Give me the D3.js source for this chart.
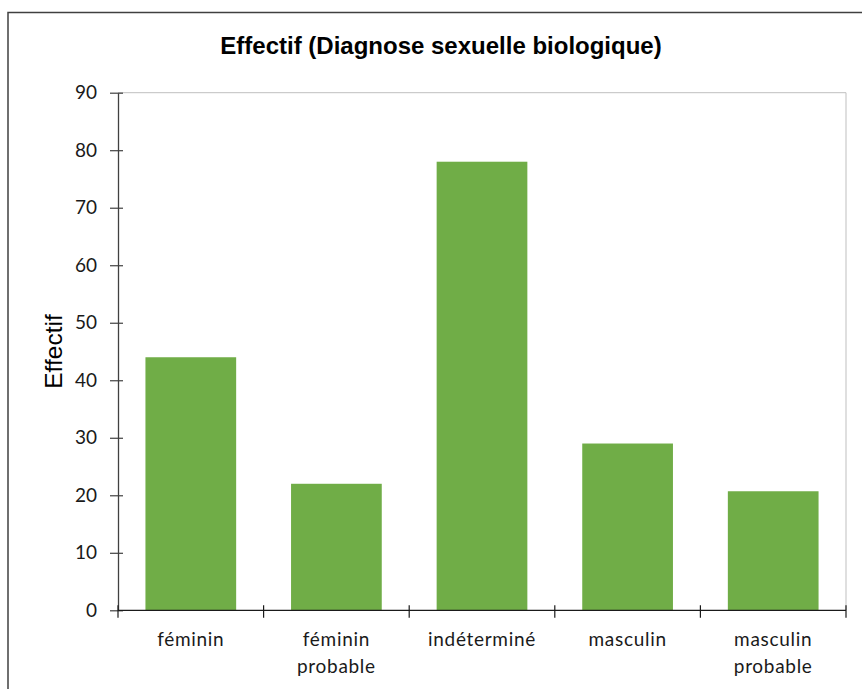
<!DOCTYPE html>
<html>
<head>
<meta charset="utf-8">
<script src="https://cdn.jsdelivr.net/npm/d3@7"></script>
<style>
  html, body { margin: 0; padding: 0; background: #fff; }
  svg { display: block; }
</style>
</head>
<body>
<svg id="chart" width="862" height="689"></svg>
<script>
const categories = [["féminin"], ["féminin", "probable"], ["indéterminé"], ["masculin"], ["masculin", "probable"]];
const values = [44, 22, 78, 29, 20.7];
const yTicks = [0, 10, 20, 30, 40, 50, 60, 70, 80, 90];
const title = "Effectif (Diagnose sexuelle biologique)";
const yTitle = "Effectif";

const svg = d3.select("#chart");
const W = 862, H = 689;
const plot = { left: 118, right: 846, top: 92.7, bottom: 610.3 };
const barColor = "#70AD47";

// outer chart frame
svg.append("rect")
  .attr("x", 8).attr("y", 12.5)
  .attr("width", W + 20).attr("height", H + 20)
  .attr("fill", "#fff").attr("stroke", "#404040").attr("stroke-width", 1.5);

const keys = categories.map(c => c.join(" "));
const pi = 0.377;
const x = d3.scaleBand().domain(keys).range([plot.left, plot.right])
  .paddingInner(pi).paddingOuter(pi / 2);
const y = d3.scaleLinear().domain([0, 90]).range([plot.bottom, plot.top]);

// plot area border (light gray)
svg.append("path")
  .attr("d", `M${plot.left},${plot.top}H${plot.right}V${plot.bottom}`)
  .attr("fill", "none").attr("stroke", "#BFBFBF").attr("stroke-width", 1);

// bars
svg.append("g").selectAll("rect").data(values).join("rect")
  .attr("x", (d, i) => x(keys[i]))
  .attr("y", d => y(d))
  .attr("width", x.bandwidth())
  .attr("height", d => y(0) - y(d))
  .attr("fill", barColor);

// y axis
const yAxis = d3.axisLeft(y).tickValues(yTicks).tickSizeInner(8).tickSizeOuter(0).tickPadding(13);
const gy = svg.append("g").attr("transform", `translate(${plot.left},0)`).call(yAxis);
gy.select(".domain").attr("stroke", "#404040").attr("stroke-width", 1.3);
gy.selectAll(".tick line").attr("stroke", "#404040").attr("x2", 5).attr("x1", -8).attr("stroke-width", 1.2);
gy.selectAll(".tick text")
  .attr("x", -21)
  .attr("font-family", "Lato, 'Noto Sans', sans-serif")
  .attr("font-size", 19).attr("fill", "#1a1a1a");

// x axis line
svg.append("line")
  .attr("x1", plot.left).attr("x2", plot.right)
  .attr("y1", y(0)).attr("y2", y(0))
  .attr("stroke", "#1a1a1a").attr("stroke-width", 1.3);

// x boundary ticks
const step = x.step();
const bounds = keys.map(k => x(k) - step * pi / 2).concat([plot.right]);
svg.append("g").selectAll("line").data(bounds).join("line")
  .attr("x1", d => d).attr("x2", d => d)
  .attr("y1", y(0) - 5).attr("y2", y(0) + 7.5)
  .attr("stroke", "#1a1a1a").attr("stroke-width", 1.2);

// x labels
const xl = svg.append("g").selectAll("text").data(categories).join("text")
  .attr("x", (d, i) => x(keys[i]) + x.bandwidth() / 2)
  .attr("y", 646)
  .attr("text-anchor", "middle")
  .attr("font-family", "Lato, 'Noto Sans', sans-serif")
  .attr("font-size", 19).attr("letter-spacing", 0.7).attr("fill", "#1a1a1a");
xl.each(function(d) {
  const t = d3.select(this);
  d.forEach((line, j) => {
    t.append("tspan").attr("x", t.attr("x")).attr("dy", j === 0 ? 0 : 27).text(line);
  });
});

// title
svg.append("text")
  .attr("x", 441).attr("y", 54)
  .attr("text-anchor", "middle")
  .attr("font-family", "'Liberation Sans', Arial, sans-serif")
  .attr("font-weight", "bold").attr("font-size", 24)
  .attr("fill", "#000")
  .text(title);

// y title
svg.append("text")
  .attr("transform", `translate(62,${(plot.top + plot.bottom) / 2}) rotate(-90)`)
  .attr("text-anchor", "middle")
  .attr("font-family", "'Liberation Sans', Arial, sans-serif")
  .attr("font-size", 24.5).attr("fill", "#000")
  .text(yTitle);
</script>
</body>
</html>
